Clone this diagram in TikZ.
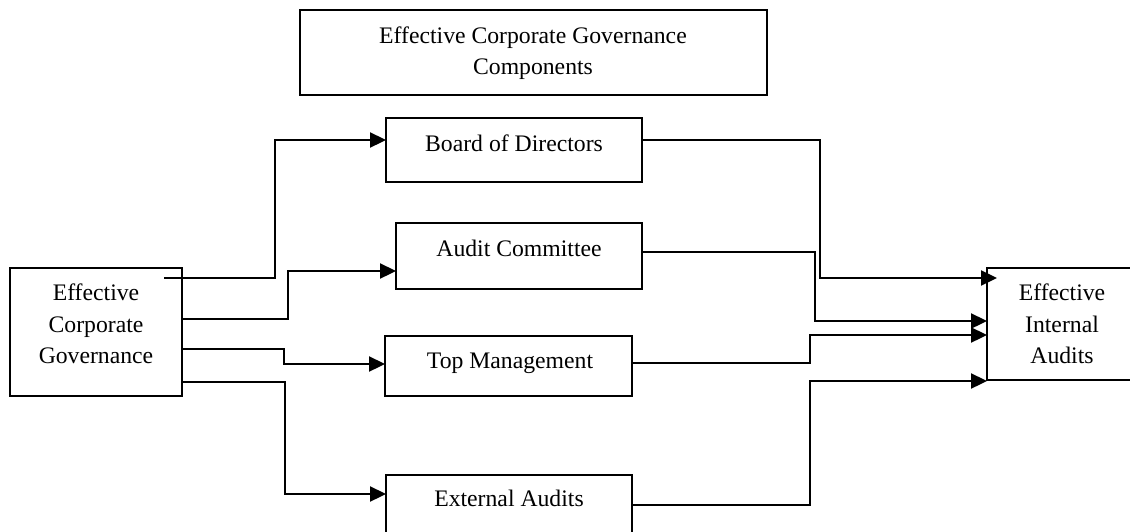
\documentclass[tikz,border=0pt]{standalone}
\usepackage{fontspec}
\setmainfont{Liberation Serif}
\usetikzlibrary{arrows.meta,calc}

\tikzset{
  box/.style={draw, line width=1.6pt, rectangle, inner sep=0pt, outer sep=0pt, anchor=north west},
  lbl/.style={anchor=base, inner sep=0pt, font=\fontsize{23.7}{31.5}\selectfont},
  conn/.style={line width=2.3pt, line join=miter,
    -{Triangle[length=16pt,width=15pt]}},
}

\begin{document}
\begin{tikzpicture}[x=1pt,y=-1pt]
\useasboundingbox (0,0) rectangle (1130,531);
\clip (0,0) rectangle (1130,531);
\fill[white] (0,0) rectangle (1130,531);

% heading
\node[box, minimum width=467pt, minimum height=85pt] (title) at (300,10) {};
\node[lbl] (title1) at (533,43) {Effective Corporate Governance};
\node[lbl] (title2) at (533,74) {Components};

% source box
\node[box, minimum width=172pt, minimum height=128pt] (cg) at (10,268) {};
\node[lbl] (cg1) at (96,300) {Effective};
\node[lbl] (cg2) at (96,332) {Corporate};
\node[lbl] (cg3) at (96,363) {Governance};

% component boxes
\node[box, minimum width=256pt, minimum height=64pt] (bd) at (386,118) {};
\node[lbl] (bdt) at (514,151) {Board of Directors};
\node[box, minimum width=246pt, minimum height=66pt] (ac) at (396,223) {};
\node[lbl] (act) at (519,256) {Audit Committee};
\node[box, minimum width=247pt, minimum height=60pt] (tm) at (385,336) {};
\node[lbl] (tmt) at (510,368) {Top Management};
\node[box, minimum width=246pt, minimum height=70pt] (ea) at (386,475) {};
\node[lbl] (eat) at (509,506) {External Audits};

% target box
\node[box, minimum width=150pt, minimum height=112pt] (ia) at (987,268) {};
\node[lbl] (ia1) at (1062,300) {Effective};
\node[lbl] (ia2) at (1062,332) {Internal};
\node[lbl] (ia3) at (1062,363) {Audits};

% governance -> components
\draw[conn] ($(cg.north east)+(-18,10)$) -| (275,140) -- ($(bd.north west)+(0,22)$);
\draw[conn] ($(cg.north east)+(0,51)$) -| (288,271) -- ($(ac.north west)+(0,48)$);
\draw[conn] ($(cg.north east)+(0,81)$) -| (284,364) -- ($(tm.north west)+(0,28)$);
\draw[conn] ($(cg.north east)+(0,114)$) -| (285,494) -- ($(ea.north west)+(0,19)$);

% components -> internal audits
\draw[conn] ($(bd.north east)+(0,22)$) -| (820,278) -- ($(ia.north west)+(10,10)$);
\draw[conn] ($(ac.north east)+(0,29)$) -| (815,321) -- ($(ia.north west)+(0,53)$);
\draw[conn] ($(tm.north east)+(0,27)$) -| (810,335) -- ($(ia.north west)+(0,67)$);
\draw[conn] ($(ea.north east)+(0,30)$) -| (810,381) -- ($(ia.south west)+(0,1)$);
\end{tikzpicture}
\end{document}
